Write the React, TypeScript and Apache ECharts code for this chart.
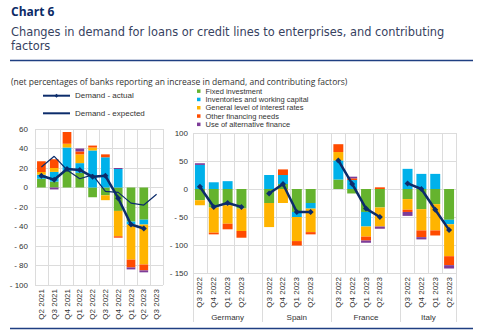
import React, { useEffect, useRef } from 'react';
import * as echarts from 'echarts';

// ---------- Left panel (euro area) ----------
const periodsLeft = ['Q2 2021', 'Q3 2021', 'Q4 2021', 'Q1 2022', 'Q2 2022', 'Q3 2022', 'Q4 2022', 'Q1 2023', 'Q2 2023', 'Q3 2023'];
const fixedLeft = [9, 6, 17, 15, -10, -8, -24, -35, -33, null];
const inventoriesLeft = [4, 10, 24, 10, 38, 31, 19, -3, -5, null];
const ratesLeft = [3, 4, 4, 9, 3, -5, -26, -36, -41, null];
const otherLeft = [11, 9, 12, 3, 2, 3, -1.5, -8, -6, null];
const altLeft = [null, -2, null, 3, null, null, 1, -2, -2, null];
const actualLeft = [12, 8, 19, 18, 11, 12, -11, -38, -42, null];
const expectedLeft = [21, 32, 18, 9, 13, -4, -5, -16, -18, -7];
const leftTicks = { min: -100, max: 60, interval: 20 };

// ---------- Right panel (countries) ----------
const countries = ['Germany', 'Spain', 'France', 'Italy'];
const periodsRight = ['Q3 2022', 'Q4 2022', 'Q1 2023', 'Q2 2023'];
const fixedDE = [-20, -33, -29, -35];
const fixedES = [-25, 9, -41, -25];
const fixedFR = [17, -8, -41, -33];
const fixedIT = [-18, -36, -27, -55];
const invDE = [43, 12, 14, null];
const invES = [25, 16, -9, -10];
const invFR = [34, 16, -26, null];
const invIT = [36, 27, 27, -8];
const ratesDE = [-9, -45, -33, -40];
const ratesES = [-43, -25, -43, -42];
const ratesFR = [15, null, -18, -34];
const ratesIT = [-19, -38, -47, -57];
const otherDE = [null, -3, -10, -12];
const otherES = [null, 10, -8, -4];
const otherFR = [14, 3, -7, 3];
const otherIT = [-4, -12, -9, -16];
const altDE = [3, null, null, null];
const altES = [null, null, null, null];
const altFR = [null, 3, -4, -4];
const altIT = [-7, -4, null, -6];
const actualDE = [4, -32, -25, -32];
const actualES = [-8, 9, -41, -41];
const actualFR = [51, 9, -35, -50];
const actualIT = [10, 0, -37, -73];
const rightTicks = { min: -150, max: 100, interval: 50 };

const titleLines = ['Changes in demand for loans or credit lines to enterprises, and contributing', 'factors'];
const factorNames = [
  'Fixed investment',
  'Inventories and working capital',
  'General level of interest rates',
  'Other financing needs',
  'Use of alternative finance',
];
const factorColors = ['#65b32e', '#00b1ea', '#ffb400', '#ff4b00', '#7d3c98'];
const lineColor = '#0c2c6b';
const gridColor = '#dcdcdc';
const FONT = '"Liberation Sans", Arial, sans-serif';
const TFONT = '"Open Sans", "Noto Sans", sans-serif';
const HFONT = '"DejaVu Sans", sans-serif';

// join country blocks with an empty slot between them
function joinBlocks(blocks: any[][]): any[] {
  const out: any[] = [];
  blocks.forEach((b, i) => {
    out.push(...b);
    if (i < blocks.length - 1) out.push(null);
  });
  return out;
}
const catsRight = joinBlocks(countries.map(() => periodsRight)).map((v) => (v == null ? '' : v)) as string[];
const factorRight = [
  joinBlocks([fixedDE, fixedES, fixedFR, fixedIT]),
  joinBlocks([invDE, invES, invFR, invIT]),
  joinBlocks([ratesDE, ratesES, ratesFR, ratesIT]),
  joinBlocks([otherDE, otherES, otherFR, otherIT]),
  joinBlocks([altDE, altES, altFR, altIT]),
];
const factorLeft = [fixedLeft, inventoriesLeft, ratesLeft, otherLeft, altLeft];
const actualRight = joinBlocks([actualDE, actualES, actualFR, actualIT]);

// group label positions on a 0..n value axis
const nRight = catsRight.length;
const groupBounds: number[] = [0];
const groupCenters: number[] = [];
{
  let start = 0;
  countries.forEach((_, i) => {
    const end = start + periodsRight.length;
    const last = i === countries.length - 1;
    const bound = last ? end : end + 1;
    groupCenters.push((start + bound) / 2);
    groupBounds.push(bound);
    start = end + 1;
  });
}

const yFmt = (v: number) => (v < 0 ? '- ' + Math.abs(v) : String(v));

export default function App() {
  const ref = useRef<HTMLDivElement>(null);
  useEffect(() => {
    const chart = echarts.init(ref.current!, null, { renderer: 'svg' });
    const series: any[] = [];
    factorNames.forEach((name, i) => {
      series.push({
        name,
        type: 'bar',
        stack: 'left',
        xAxisIndex: 0,
        yAxisIndex: 0,
        barWidth: '68%',
        itemStyle: { color: factorColors[i] },
        data: factorLeft[i],
      });
    });
    factorNames.forEach((name, i) => {
      series.push({
        name,
        type: 'bar',
        stack: 'right',
        xAxisIndex: 1,
        yAxisIndex: 1,
        barWidth: '72%',
        itemStyle: { color: factorColors[i] },
        data: factorRight[i],
      });
    });
    series.push({
      name: 'Demand - actual',
      type: 'line',
      xAxisIndex: 0,
      yAxisIndex: 0,
      symbol: 'diamond',
      symbolSize: 6,
      lineStyle: { color: lineColor, width: 2.5 },
      itemStyle: { color: lineColor },
      data: actualLeft,
    });
    series.push({
      name: 'Demand - expected',
      type: 'line',
      xAxisIndex: 0,
      yAxisIndex: 0,
      symbol: 'none',
      lineStyle: { color: lineColor, width: 1.2 },
      itemStyle: { color: lineColor },
      data: expectedLeft,
    });
    series.push({
      name: 'Demand - actual',
      type: 'line',
      xAxisIndex: 1,
      yAxisIndex: 1,
      symbol: 'diamond',
      symbolSize: 6,
      connectNulls: false,
      lineStyle: { color: lineColor, width: 2.5 },
      itemStyle: { color: lineColor },
      data: actualRight,
    });

    const catAxisBase = {
      type: 'category',
      position: 'bottom',
      axisLine: { show: false },
      axisTick: { show: false },
      splitLine: { show: true, interval: 0, lineStyle: { color: gridColor, width: 1 } },
      axisLabel: { rotate: 90, interval: 0, fontSize: 8, color: '#333', fontFamily: FONT, margin: 4 },
    };
    const valAxisBase = {
      type: 'value',
      axisLine: { show: false },
      axisTick: { show: false },
      splitLine: { show: true, lineStyle: { color: gridColor, width: 1 } },
      axisLabel: { fontSize: 8, color: '#333', fontFamily: FONT, formatter: yFmt },
    };

    chart.setOption({
      animation: false,
      backgroundColor: '#fff',
      title: [
        { text: 'Chart 6', left: 11, top: 5, padding: 0, textStyle: { fontSize: 12, fontWeight: 'bold', color: '#0b2a66', fontFamily: TFONT } },
        ...titleLines.map((t, i) => ({
          text: t,
          left: 11,
          top: 25 + i * 14,
          padding: 0,
          textStyle: { fontSize: 11.4, lineHeight: 13, fontWeight: 'normal', color: '#37425f', fontFamily: HFONT },
        })),
        {
          text: '(net percentages of banks reporting an increase in demand, and contributing factors)',
          left: 11,
          top: 76.5,
          padding: 0,
          textStyle: { fontSize: 8.5, lineHeight: 10, fontWeight: 'normal', color: '#333', fontFamily: TFONT },
        },
      ],
      graphic: [
        { type: 'line', shape: { x1: 10, y1: 60.5, x2: 473, y2: 60.5 }, style: { stroke: '#1f3f82', lineWidth: 1.6 } },
        { type: 'line', shape: { x1: 10, y1: 328.5, x2: 473, y2: 328.5 }, style: { stroke: '#1f3f82', lineWidth: 1.6 } },
      ],
      legend: [
        {
          data: [
            { name: 'Demand - actual' },
            { name: 'Demand - expected', itemStyle: { opacity: 0 } },
          ],
          orient: 'vertical',
          left: 42,
          top: 90.7,
          padding: 0,
          itemWidth: 27,
          itemHeight: 5,
          itemGap: 7.6,
          textStyle: { fontSize: 8, color: '#333', fontFamily: FONT, lineHeight: 10 },
        },
        {
          data: factorNames,
          orient: 'vertical',
          left: 197,
          top: 87,
          padding: 0,
          icon: 'rect',
          itemWidth: 3.5,
          itemHeight: 3.5,
          itemGap: 0,
          textStyle: { fontSize: 7.5, color: '#333', fontFamily: FONT, lineHeight: 8.3 },
        },
      ],
      grid: [
        { left: 35, top: 129, width: 128, height: 156 },
        { left: 193, top: 133, width: 263, height: 140 },
      ],
      xAxis: [
        { ...catAxisBase, gridIndex: 0, data: periodsLeft },
        { ...catAxisBase, gridIndex: 1, data: catsRight },
        {
          type: 'value',
          gridIndex: 1,
          position: 'bottom',
          min: 0,
          max: nRight,
          interval: 0.5,
          axisLine: { show: false },
          splitLine: { show: false },
          axisTick: { show: true, customValues: groupBounds, length: 49, lineStyle: { color: gridColor, width: 1 } },
          axisLabel: {
            customValues: groupCenters,
            fontSize: 8,
            color: '#333',
            fontFamily: FONT,
            margin: 40,
            formatter: (v: number) => {
              const i = groupCenters.indexOf(v);
              return i >= 0 ? countries[i] : '';
            },
          },
        },
      ],
      yAxis: [
        { ...valAxisBase, gridIndex: 0, ...leftTicks, axisLabel: { ...valAxisBase.axisLabel, margin: 7 } },
        { ...valAxisBase, gridIndex: 1, ...rightTicks, axisLabel: { ...valAxisBase.axisLabel, margin: 5 } },
      ],
      series,
    });
    return () => chart.dispose();
  }, []);
  return <div ref={ref} style={{ position: 'fixed', left: 0, top: 0, width: 485, height: 335 }} />;
}
